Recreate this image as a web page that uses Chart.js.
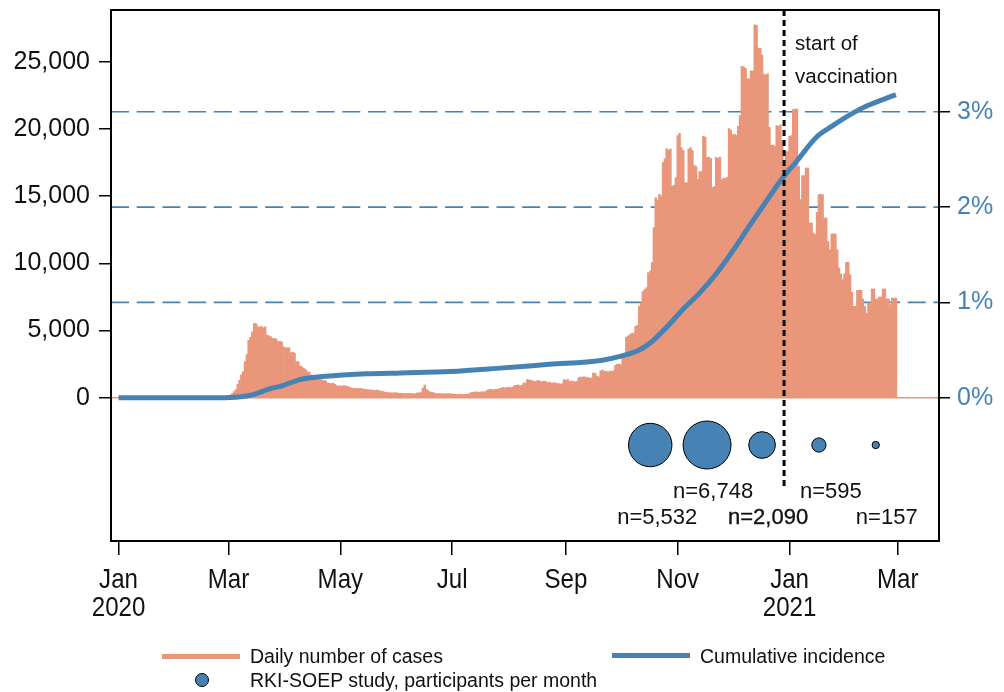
<!DOCTYPE html>
<html><head><meta charset="utf-8">
<script src="https://cdn.jsdelivr.net/npm/chart.js@4.4.1/dist/chart.umd.min.js"></script>
<style>
html,body{margin:0;padding:0;background:#fff;}
#wrap{position:relative;width:1004px;height:692px;overflow:hidden;}
canvas{position:absolute;left:0;top:0;}
.lg{position:absolute;font-family:'Liberation Sans',Arial,sans-serif;font-size:19.5px;color:#111;white-space:nowrap;line-height:20px;height:20px;}
.sw{position:absolute;}
</style></head><body>
<div id="wrap">
<canvas id="c" width="1004" height="692"></canvas>
<div class="sw" style="left:162px;top:654px;width:78px;height:5px;background:#e9967a;"></div>
<div class="lg" style="left:250px;top:646px;">Daily number of cases</div>
<div class="sw" style="left:612px;top:653px;width:78px;height:5px;background:#4682b4;"></div>
<div class="lg" style="left:700px;top:646px;">Cumulative incidence</div>
<div class="sw" style="left:195px;top:673px;width:12px;height:12px;border:1px solid #000;border-radius:50%;background:#4682b4;"></div>
<div class="lg" style="left:250px;top:670px;">RKI-SOEP study, participants per month</div>
</div>
<script>
// Daily reported cases, day 0 = 1 Jan 2020
const dailyCases = [
0,0,0,0,0,0,0,0,0,0, 0,0,0,0,0,0,0,0,0,0, 0,0,0,0,0,0,0,0,0,0,
0,0,0,0,0,0,0,0,0,0, 0,0,0,0,0,0,0,0,0,0, 0,0,0,0,0,
20,30,50,60,100,
150,200,300,450,600, 1000,1300,1700,1930,2680,
3200,4290,4500,4910,5530, 5500,5280,5250,5300,5200,
5280,4660,4600,4540,4400, 4420,4350,4170,4200,4150,
3790,3720,3700,3720,3350, 3380,3320,2680,2680,2360,
2300,2180,2100,1930,1900, 1690,1650,1510,1500,1450,
1350,1310,1280,1250,1100, 1070,1050,1080,1000,900,
870,880,850,900,870, 820,800,720,690,700,
680,660,700,650,640, 620,600,580,570,560,
540,580,520,500,480, 420,400,380,370,360,
350,380,350,330,330, 320,310,300,330,320,
300,290,300,350,370, 380,700,940,620,500,
420,400,350,320,300, 310,290,300,280,300,
310,290,280,260,250, 240,260,250,230,250,
260,270,350,400,420, 430,410,400,440,430,
450,550,600,620,580, 600,640,620,700,740,
760,720,750,780,740, 800,900,920,950,880,
920,1090,1100,1360,1320, 1300,1240,1200,1250,1280,
1220,1180,1240,1200,1120, 1150,1100,1080,1120,1040,
1060,1000,1050,1340,1300, 1350,1210,1250,1200,1180,
1220,1480,1540,1520,1560, 1500,1490,1450,1480,1840,
1800,1600,1550,2000,2060, 1950,1980,1900,1990,1950,
2000,2400,2480,2500,2450, 3150,3300,4500,4590,4700,
4790,4800,5300,5380,6800, 7070,7900,8060,8190,9300,
9420,10050,12650,14880,14700, 15130,15000,17500,17780,18530,
18400,18500,15750,15800,16370, 19500,19670,18600,18400,16000,
15990,18500,18600,18400,17280, 17200,16250,16830,16830,19450,
19400,17880,17900,17800,15650, 15700,17880,17800,17900,16220,
16340,16300,16400,20020,19900, 19570,19600,19500,20190,21000,
24650,24600,24500,23740,23700, 24330,24300,27750,27700,26020,
26000,25500,24080,24000,24100, 20120,18780,18800,18700,20240,
20200,20300,19120,17580,18330, 18300,19450,19500,21430,21480,
21480,17210,14740,16520,16520, 17090,17090,13000,13000,12250,
12140,13790,15110,15110,15110, 13370,13370,11620,11010,12180,
12180,12180,11010,9650,9200, 8780,9230,10070,10070,9150,
7840,6800,6800,7990,7990, 7990,7340,6800,6300,7050,
7050,8090,8090,7340,7340, 7490,7490,8090,8090,7340,
7340,6920,7410,7410,7410
];
// Cumulative incidence (% of population)
const incidenceDays = [0,58,64,68,74,81,90,99,117,135,154,181,208,235,263,273,284,291,299,308,317,326,335,344,354,362,369,381,390,400,408,424];
const incidencePct  = [0,0,0.005,0.012,0.035,0.084,0.13,0.19,0.23,0.25,0.26,0.275,0.31,0.35,0.39,0.43,0.50,0.59,0.74,0.93,1.10,1.30,1.54,1.80,2.08,2.30,2.46,2.74,2.86,2.98,3.06,3.18];
// RKI-SOEP study participants per month
const studyDays = [290,321,351,382,413];
const studyN = [5532,6748,2090,595,157];
const studyLabels = ['n=5,532','n=6,748','n=2,090','n=595','n=157'];
const studyRowValue = -3520;
const vaccinationDay = 363;
// Axis ticks
const monthTickDays = [0,60,121,182,244,305,366,425];
const monthTickLabels = [['Jan','2020'],['Mar'],['May'],['Jul'],['Sep'],['Nov'],['Jan','2021'],['Mar']];
const leftTicks = [0,5000,10000,15000,20000,25000];
const rightTicks = [0,1,2,3];
const rightGridLines = [1,2,3];

const SALMON = '#e9967a', BLUE = '#4682b4';
const FONT = "'Liberation Sans', Arial, sans-serif";

const decor = {
  id: 'decor',
  beforeDatasetsDraw(chart) {
    const {ctx, chartArea: a, scales} = chart;
    ctx.save();
    const y0 = scales.y.getPixelForValue(0);
    ctx.strokeStyle = SALMON; ctx.lineWidth = 1.5;
    ctx.beginPath(); ctx.moveTo(a.left, y0); ctx.lineTo(a.right, y0); ctx.stroke();
    ctx.strokeStyle = BLUE; ctx.lineWidth = 1.6; ctx.setLineDash([18, 7.7]);
    rightGridLines.forEach(v => {
      const y = scales.y2.getPixelForValue(v);
      ctx.beginPath(); ctx.moveTo(a.left, y); ctx.lineTo(a.right, y); ctx.stroke();
    });
    ctx.restore();
  },
  afterDatasetsDraw(chart) {
    const {ctx, chartArea: a, scales} = chart;
    ctx.save();
    // vaccination line
    const vx = scales.x.getPixelForValue(vaccinationDay);
    ctx.strokeStyle = '#000'; ctx.lineWidth = 3; ctx.setLineDash([6, 4]);
    ctx.beginPath(); ctx.moveTo(vx, a.top); ctx.lineTo(vx, a.bottom); ctx.stroke();
    ctx.setLineDash([]);
    ctx.fillStyle = '#111';
    ctx.font = '20.5px ' + FONT;
    ctx.textAlign = 'left'; ctx.textBaseline = 'alphabetic';
    ctx.fillText('start of', vx + 11, a.top + 40);
    ctx.fillText('vaccination', vx + 11, a.top + 73);
    // bubble labels
    ctx.font = '22px ' + FONT;
    ctx.textAlign = 'center';
    const offs = [7, 6, 6, 12, 11];
    const rowY = scales.y.getPixelForValue(studyRowValue);
    ctx.fillStyle = '#fff';
    ctx.fillRect(vx - 3, rowY + 45, 6, a.bottom - (rowY + 45) - 1);
    ctx.fillStyle = '#111';
    studyDays.forEach((d, i) => {
      const x = scales.x.getPixelForValue(d) + offs[i];
      const y = rowY + (i % 2 === 0 ? 79 : 53);
      const w = ctx.measureText(studyLabels[i]).width;
      if (Math.abs(x - vx) < w / 2 + 2) {
        ctx.strokeStyle = '#111'; ctx.lineWidth = 0.35;
        ctx.strokeText(studyLabels[i], x, y);
      }
      ctx.fillText(studyLabels[i], x, y);
    });
    // frame
    ctx.strokeStyle = '#000'; ctx.lineWidth = 2;
    ctx.strokeRect(a.left, a.top, a.right - a.left, a.bottom - a.top);
    // x tick labels (condensed)
    ctx.fillStyle = '#111';
    ctx.font = '28px ' + FONT;
    ctx.textAlign = 'center';
    monthTickDays.forEach((d, i) => {
      const x = scales.x.getPixelForValue(d);
      monthTickLabels[i].forEach((t, j) => {
        ctx.save();
        ctx.translate(x, a.bottom + 47 + j * 28);
        ctx.scale(0.86, 1);
        ctx.fillText(t, 0, 0);
        ctx.restore();
      });
    });
    ctx.restore();
  }
};

new Chart(document.getElementById('c'), {
  type: 'bar',
  data: {
    datasets: [
      {
        type: 'line', label: 'Cumulative incidence', order: 1,
        data: incidenceDays.map((d, i) => ({x: d, y: incidencePct[i]})),
        borderColor: BLUE, borderWidth: 5, pointRadius: 0,
        cubicInterpolationMode: 'monotone', yAxisID: 'y2', xAxisID: 'x'
      },
      {
        type: 'bubble', label: 'RKI-SOEP study, participants per month', order: 2,
        data: studyDays.map((d, i) => ({x: d, y: studyRowValue, r: Math.sqrt(studyN[i]) * 0.292})),
        backgroundColor: BLUE, borderColor: '#000', borderWidth: 1, yAxisID: 'y', xAxisID: 'x'
      },
      {
        type: 'bar', label: 'Daily number of cases', order: 3,
        data: dailyCases.map((v, i) => ({x: i, y: v})),
        backgroundColor: SALMON, borderWidth: 0,
        barPercentage: 1.0, categoryPercentage: 1.0, yAxisID: 'y', xAxisID: 'x'
      }
    ]
  },
  options: {
    responsive: false, animation: false, devicePixelRatio: 1,
    layout: {autoPadding: false, padding: {top: 10, left: 0, right: 0, bottom: 0}},
    plugins: {legend: {display: false}, tooltip: {enabled: false}},
    scales: {
      x: {
        type: 'linear', min: -4.1, max: 447.5, offset: false,
        afterBuildTicks: s => { s.ticks = monthTickDays.map(v => ({value: v})); },
        afterFit: s => { s.height = 151; s.paddingLeft = 0; s.paddingRight = 0; },
        grid: {offset: false, drawOnChartArea: false, drawTicks: true, tickLength: 14, color: '#000', lineWidth: 1.5},
        border: {display: false},
        ticks: {display: false, autoSkip: false, maxRotation: 0}
      },
      y: {
        position: 'left', min: -10662, max: 28847,
        afterBuildTicks: s => { s.ticks = leftTicks.map(v => ({value: v})); },
        afterFit: s => { s.width = 111; s.paddingTop = 0; s.paddingBottom = 0; },
        grid: {drawOnChartArea: false, tickLength: 12, color: '#000', lineWidth: 1.5},
        border: {display: false},
        ticks: {padding: 9, color: '#111', font: {family: FONT, size: 25},
          callback: v => v.toLocaleString('en-US')}
      },
      y2: {
        position: 'right', min: -1.504, max: 4.068,
        afterBuildTicks: s => { s.ticks = rightTicks.map(v => ({value: v})); },
        afterFit: s => { s.width = 65; s.paddingTop = 0; s.paddingBottom = 0; },
        grid: {drawOnChartArea: false, tickLength: 11, color: '#000', lineWidth: 1.5},
        border: {display: false},
        ticks: {padding: 7, color: BLUE, font: {family: FONT, size: 25},
          callback: v => v + '%'}
      }
    }
  },
  plugins: [decor]
});
</script>
</body></html>
